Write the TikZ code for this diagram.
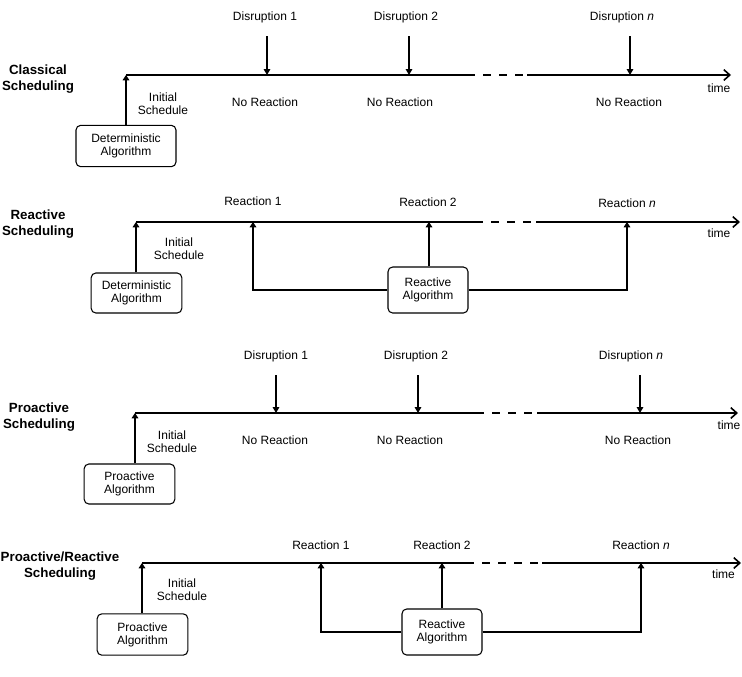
\documentclass[tikz,border=0pt]{standalone}
\usepackage{fontspec}
\setmainfont{Liberation Sans}
\usepackage{tikz}
\usetikzlibrary{arrows.meta}
\tikzstyle{axis} = [line width=1.2pt]
\tikzstyle{gap} = [line width=1.2pt, dash pattern=on 6pt off 6pt, dash phase=6pt]
\tikzstyle{timeaxis} = [line width=1.2pt, -{Straight Barb[length=4.5pt,width=8pt]}]
\tikzstyle{up} = [line width=0.8pt, -{Triangle[length=4pt,width=5pt]}]
\tikzstyle{down} = [line width=0.8pt, -{Triangle[length=4.5pt,width=5pt]}, shorten <=9pt]
\tikzstyle{algo} = [draw, line width=0.8pt, rounded corners=3.5pt, align=center, inner sep=1pt, minimum width=68pt, minimum height=30pt]
\tikzstyle{react} = [algo, minimum width=60pt, minimum height=34.5pt]
\tikzstyle{lbl} = [align=center, inner sep=1pt]
\tikzstyle{paradigm} = [align=center, inner sep=1pt, font=\bfseries]

\begin{document}
\begin{tikzpicture}[
            x=0.75pt, y=-0.75pt,
            font=\fontsize{9}{9.8}\selectfont
        ]
            \useasboundingbox (0,0) rectangle (742,676);

            % classical scheduling
            \node[paradigm] (cs) at (38,79) {Classical\\Scheduling};
            \coordinate (cs0) at (126,75);
            \coordinate (cs1) at (475,75);
            \coordinate (cs2) at (527,75);
            \coordinate (cs3) at (731,75);
            \draw[axis] (cs0) -- (cs1);
            \draw[gap] (cs1) -- (cs2);
            \draw[timeaxis] (cs2) -- (cs3);
            \node[lbl] (cstime) at (719,88) {time};
            \node[algo, minimum width=75pt, minimum height=31pt] (csalg) at (126,146) {Deterministic\\Algorithm};
            \draw[up] (csalg.north -| cs0) -- (cs0);
            \node[lbl] (csinit) at (163,104) {Initial\\Schedule};
            \coordinate (csd1) at (267,75);
            \coordinate (csd2) at (409,75);
            \coordinate (csdn) at (630,75);
            \node[lbl] (csl1) at (265,17) {Disruption 1};
            \node[lbl] (csl2) at (406,17) {Disruption 2};
            \node[lbl] (csln) at (622,17) {Disruption \textit{n}};
            \draw[down] (csl1.south -| csd1) -- (csd1);
            \draw[down] (csl2.south -| csd2) -- (csd2);
            \draw[down] (csln.south -| csdn) -- (csdn);
            \node[lbl] (csn1) at (265,102) {No Reaction};
            \node[lbl] (csn2) at (400,102) {No Reaction};
            \node[lbl] (csnn) at (629,102) {No Reaction};

            % reactive scheduling
            \node[paradigm] (rs) at (38,224) {Reactive\\Scheduling};
            \coordinate (rs0) at (136,222);
            \coordinate (rs1) at (483,222);
            \coordinate (rs2) at (536,222);
            \coordinate (rs3) at (740,222);
            \draw[axis] (rs0) -- (rs1);
            \draw[gap] (rs1) -- (rs2);
            \draw[timeaxis] (rs2) -- (rs3);
            \node[lbl] (rstime) at (719,233) {time};
            \node[algo] (rsalg) at (136.5,293) {Deterministic\\Algorithm};
            \draw[up] (rsalg.north -| rs0) -- (rs0);
            \node[lbl] (rsinit) at (179,249) {Initial\\Schedule};
            \coordinate (rsr1) at (253,222);
            \coordinate (rsr2) at (429,222);
            \coordinate (rsrn) at (627,222);
            \node[react] (rsreact) at (428,290) {Reactive\\Algorithm};
            \draw[up] (rsreact.west) -| (rsr1);
            \draw[up] (rsreact.north -| rsr2) -- (rsr2);
            \draw[up] (rsreact.east) -| (rsrn);
            \node[lbl] (rsl1) at (253,201) {Reaction 1};
            \node[lbl] (rsl2) at (428,202) {Reaction 2};
            \node[lbl] (rsln) at (627,203) {Reaction \textit{n}};

            % proactive scheduling
            \node[paradigm] (ps) at (39,417) {Proactive\\Scheduling};
            \coordinate (ps0) at (135,413);
            \coordinate (ps1) at (484,413);
            \coordinate (ps2) at (537,413);
            \coordinate (ps3) at (738,413);
            \draw[axis] (ps0) -- (ps1);
            \draw[gap] (ps1) -- (ps2);
            \draw[timeaxis] (ps2) -- (ps3);
            \node[lbl] (pstime) at (729,425) {time};
            \node[algo] (psalg) at (129.5,484) {Proactive\\Algorithm};
            \draw[up] (psalg.north -| ps0) -- (ps0);
            \node[lbl] (psinit) at (172,442) {Initial\\Schedule};
            \coordinate (psd1) at (276,413);
            \coordinate (psd2) at (418,413);
            \coordinate (psdn) at (640,413);
            \node[lbl] (psl1) at (276,356) {Disruption 1};
            \node[lbl] (psl2) at (416,356) {Disruption 2};
            \node[lbl] (psln) at (631,356) {Disruption \textit{n}};
            \draw[down] (psl1.south -| psd1) -- (psd1);
            \draw[down] (psl2.south -| psd2) -- (psd2);
            \draw[down] (psln.south -| psdn) -- (psdn);
            \node[lbl] (psn1) at (275,440) {No Reaction};
            \node[lbl] (psn2) at (410,440) {No Reaction};
            \node[lbl] (psnn) at (638,440) {No Reaction};

            % proactive/reactive scheduling
            \node[paradigm] (prs) at (60,566) {Proactive/Reactive\\Scheduling};
            \coordinate (prs0) at (142,563);
            \coordinate (prs1) at (474,563);
            \coordinate (prs2) at (542,563);
            \coordinate (prs3) at (741,563);
            \draw[axis] (prs0) -- (prs1);
            \draw[gap] (prs1) -- (prs2);
            \draw[timeaxis] (prs2) -- (prs3);
            \node[lbl] (prstime) at (723.5,574) {time};
            \node[algo, minimum height=31pt] (prsalg) at (142.5,634.5) {Proactive\\Algorithm};
            \draw[up] (prsalg.north -| prs0) -- (prs0);
            \node[lbl] (prsinit) at (182,590) {Initial\\Schedule};
            \coordinate (prsr1) at (321,563);
            \coordinate (prsr2) at (442,563);
            \coordinate (prsrn) at (641,563);
            \node[react] (prsreact) at (442,632) {Reactive\\Algorithm};
            \draw[up] (prsreact.west) -| (prsr1);
            \draw[up] (prsreact.north -| prsr2) -- (prsr2);
            \draw[up] (prsreact.east) -| (prsrn);
            \node[lbl] (prsl1) at (321,545) {Reaction 1};
            \node[lbl] (prsl2) at (442,545) {Reaction 2};
            \node[lbl] (prsln) at (641,545) {Reaction \textit{n}};

        \end{tikzpicture}
\end{document}
